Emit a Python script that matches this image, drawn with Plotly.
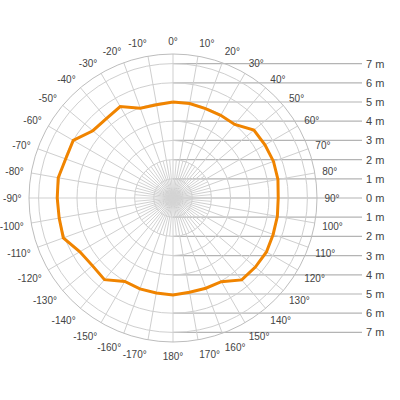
import plotly.graph_objects as go

# measured range (m) around the device, clockwise from 0 deg
angles = [0, 10, 20, 30, 40, 50, 60, 70, 80, 90, 100, 110, 120, 130, 140, 150, 160, 170,
          180, 190, 200, 210, 220, 230, 240, 250, 260, 270, 280, 290, 300, 310, 320, 330, 340, 350, 360]
ranges = [5.0, 5.0, 4.95, 4.97, 5.0, 5.5, 5.53, 5.57, 5.55, 5.48, 5.52, 5.55, 5.62, 5.6, 5.57, 5.03, 5.0, 4.98,
          5.05, 5.02, 5.04, 5.02, 5.55, 5.48, 5.6, 6.08, 6.02, 6.03, 6.07, 5.95, 6.0, 5.45, 5.4, 5.5, 4.98, 4.93, 5.0]

tick_angles = list(range(0, 360, 10))
tick_labels = [f"{a if a <= 180 else a - 360}°" for a in tick_angles]

ruler_levels = [7, 6, 5, 4, 3, 2, 1, 0, -1, -2, -3, -4, -5, -6, -7]
r_max = 7.5

W, H = 400, 400
px_per_m = 144 / r_max
cx, cy = 173, 198

label_font = "Liberation Sans Narrow, Liberation Sans, sans-serif"

fig = go.Figure()

# dense spokes near the centre
for a in range(5, 360, 10):
    fig.add_trace(go.Scatterpolar(r=[0, 2], theta=[a, a], mode="lines",
                                  line=dict(color="#d4d4d4", width=1),
                                  hoverinfo="skip", showlegend=False))

fig.add_trace(go.Scatterpolar(
    r=ranges, theta=angles, mode="lines",
    line=dict(color="#f08400", width=3),
    showlegend=False
))

# ruler lines on the right side
for lv in ruler_levels:
    fig.add_trace(go.Scatter(x=[0, (362 - cx) / px_per_m], y=[lv, lv], mode="lines",
                             line=dict(color="#b4b4b4", width=1.2),
                             hoverinfo="skip", showlegend=False, xaxis="x", yaxis="y"))
    fig.add_annotation(x=(364 - cx) / px_per_m, y=lv, xref="x", yref="y",
                       text=f"{abs(lv)} m", showarrow=False, xanchor="left",
                       font=dict(size=11, color="#444"))

fig.update_layout(
    width=W, height=H,
    margin=dict(l=0, r=0, t=0, b=0),
    paper_bgcolor="white", plot_bgcolor="rgba(0,0,0,0)",
    font=dict(family=label_font, size=11, color="#444"),
    xaxis=dict(range=[-cx / px_per_m, (W - cx) / px_per_m], domain=[0, 1],
               visible=False, fixedrange=True),
    yaxis=dict(range=[-(H - cy) / px_per_m, cy / px_per_m], domain=[0, 1],
               visible=False, fixedrange=True),
    polar=dict(
        domain=dict(x=[(cx - 144) / W, (cx + 144) / W],
                    y=[1 - (cy + 144) / H, 1 - (cy - 144) / H]),
        bgcolor="rgba(0,0,0,0)",
        radialaxis=dict(range=[0, r_max], dtick=1, showticklabels=False, ticks="",
                        showline=False, gridcolor="#cfcfcf", gridwidth=1),
        angularaxis=dict(rotation=90, direction="clockwise",
                         tickvals=tick_angles, ticktext=tick_labels,
                         ticks="outside", ticklen=5, tickcolor="rgba(0,0,0,0)",
                         showline=True, linecolor="#bdbdbd", linewidth=1,
                         gridcolor="#cfcfcf", gridwidth=1,
                         tickfont=dict(size=10, color="#444")),
    ),
)

# drop the default page margin so the figure sits at the window's corner
fig.write_html("out.html", config={"displayModeBar": False},
               post_script="document.body.style.margin='0';")
